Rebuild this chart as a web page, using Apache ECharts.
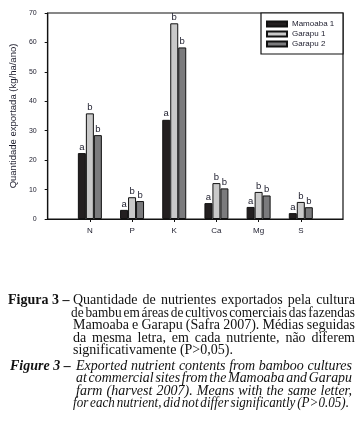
<!DOCTYPE html>
<html><head><meta charset="utf-8">
<script src="https://cdn.jsdelivr.net/npm/echarts@6/dist/echarts.min.js"></script>
<style>html,body{margin:0;padding:0;background:#fff}#c{width:360px;height:426px}</style>
</head><body><div id="c"></div>
<script>
const categories = ['', 'N', 'P', 'K', 'Ca', 'Mg', 'S', ''];
const yTicks = [0, 10, 20, 30, 40, 50, 60, 70];
const mamoaba1 = [null, 22.4, 3.1, 33.7, 5.4, 4.1, 2.0, null];
const garapu1 = [null, 35.9, 7.4, 66.5, 12.2, 9.2, 5.8, null];
const garapu2 = [null, 28.5, 6.1, 58.3, 10.4, 8.0, 4.0, null];
const letters1 = ['', 'a', 'a', 'a', 'a', 'a', 'a', ''];
const letters2 = ['', 'b', 'b', 'b', 'b', 'b', 'b', ''];
const letters3 = ['', 'b', 'b', 'b', 'b', 'b', 'b', ''];
const seriesNames = ['Mamoaba 1', 'Garapu 1', 'Garapu 2'];
const yAxisName = 'Quantidade exportada (kg/ha/ano)';
const captionPTHead = 'Figura 3 –';
const captionPT = [
  'Quantidade de nutrientes exportados pela cultura',
  'de bambu em áreas de cultivos comerciais das fazendas',
  'Mamoaba e Garapu (Safra 2007). Médias seguidas',
  'da mesma letra, em cada nutriente, não diferem',
  'significativamente (P>0,05).'
];
const captionENHead = 'Figure 3 –';
const captionEN = [
  'Exported nutrient contents from bamboo cultures',
  'at commercial sites from the Mamoaba and Garapu',
  'farm (harvest 2007). Means with the same letter,',
  'for each nutrient, did not differ significantly (P>0.05).'
];

const chart = echarts.init(document.getElementById('c'), null, {renderer: 'canvas'});
const sans = 'Liberation Sans, Arial, sans-serif';
const serif = '"Liberation Serif", "Times New Roman", serif';
const colors = ['#231f20', '#c9c9c9', '#7b7b7d'];
const letterSets = [letters1, letters2, letters3];

function mkSeries(i, data) {
  return {
    name: seriesNames[i], type: 'bar', data: data,
    barWidth: 8, barGap: '0%',
    itemStyle: {color: colors[i], borderColor: '#111', borderWidth: 1},
    label: {show: true, position: 'top', distance: 1, fontFamily: sans, fontSize: 9.5, color: '#1c1c2c',
      formatter: p => letterSets[i][p.dataIndex]},
    emphasis: {disabled: true}
  };
}

const mctx = document.createElement('canvas').getContext('2d');
function addLine(graphics, text, x0, x1, y, font, justify) {
  if (!justify) {
    graphics.push({type: 'text', x: x0, y: y, style: {text: text, font: font, fill: '#111', textVerticalAlign: 'middle'}});
    return;
  }
  mctx.font = font;
  const words = text.split(' ');
  const widths = words.map(w => mctx.measureText(w).width);
  const total = widths.reduce((a, b) => a + b, 0);
  const n = words.length;
  const minGap = 1.8;
  let gap = n > 1 ? (x1 - x0 - total) / (n - 1) : 0;
  let s = 1;
  if (gap < minGap) {
    gap = minGap;
    s = (x1 - x0 - minGap * (n - 1)) / total;
  }
  let x = x0;
  words.forEach((w, k) => {
    graphics.push({type: 'text', x: x, y: y, scaleX: s, style: {text: w, font: font, fill: '#111', textVerticalAlign: 'middle'}});
    x += widths[k] * s + gap;
  });
}

const fs = 14;
const graphics = [
  {type: 'rect', shape: {x: 261, y: 13, width: 82, height: 41}, style: {fill: '#fff', stroke: '#111', lineWidth: 1.2}, z: 10}
];
addLine(graphics, captionPTHead, 8, 0, 300, 'bold ' + fs + 'px ' + serif, false);
const ptY = [300, 313, 325, 338, 350];
const ptX0 = [73, 71, 73, 73, 73];
captionPT.forEach((t, i) => addLine(graphics, t, ptX0[i], 355, ptY[i], fs + 'px ' + serif, i < 4));
addLine(graphics, captionENHead, 10, 0, 366, 'italic bold ' + fs + 'px ' + serif, false);
const enY = [366, 378, 391, 403];
const enX0 = [76, 76, 76, 73];
const enX1 = [352, 352, 352, 349];
captionEN.forEach((t, i) => addLine(graphics, t, enX0[i], enX1[i], enY[i], 'italic ' + fs + 'px ' + serif, true));

chart.setOption({
  animation: false,
  grid: {left: 47, right: 17, top: 13, bottom: 207, show: true, borderColor: '#111', borderWidth: 1.2},
  legend: {
    orient: 'vertical', left: 266, top: 20, itemWidth: 20, itemHeight: 5, itemGap: 2, padding: 0,
    icon: 'rect',
    data: seriesNames, textStyle: {fontFamily: sans, fontSize: 8, lineHeight: 8, color: '#1c1c2c'}, z: 20,
    selectedMode: false
  },
  xAxis: {
    type: 'category', data: categories, boundaryGap: false,
    axisLine: {lineStyle: {color: '#111', width: 1.2}},
    axisTick: {length: 3, lineStyle: {color: '#111'}, interval: (i) => i > 0 && i < categories.length - 1},
    axisLabel: {fontFamily: sans, fontSize: 8, color: '#1c1c2c', margin: 8, interval: 0},
    splitLine: {show: false}
  },
  yAxis: {
    type: 'value', min: yTicks[0], max: yTicks[yTicks.length - 1], interval: 10,
    name: yAxisName, nameLocation: 'middle', nameGap: 24,
    nameTextStyle: {fontFamily: sans, fontSize: 9.5, color: '#1c1c2c'},
    axisLine: {show: true, lineStyle: {color: '#111', width: 1.2}},
    axisTick: {show: true, length: 3, lineStyle: {color: '#111'}},
    axisLabel: {fontFamily: sans, fontSize: 7, color: '#1c1c2c', margin: 11},
    splitLine: {show: false}
  },
  series: [mkSeries(0, mamoaba1), mkSeries(1, garapu1), mkSeries(2, garapu2)],
  graphic: graphics
});
</script></body></html>
